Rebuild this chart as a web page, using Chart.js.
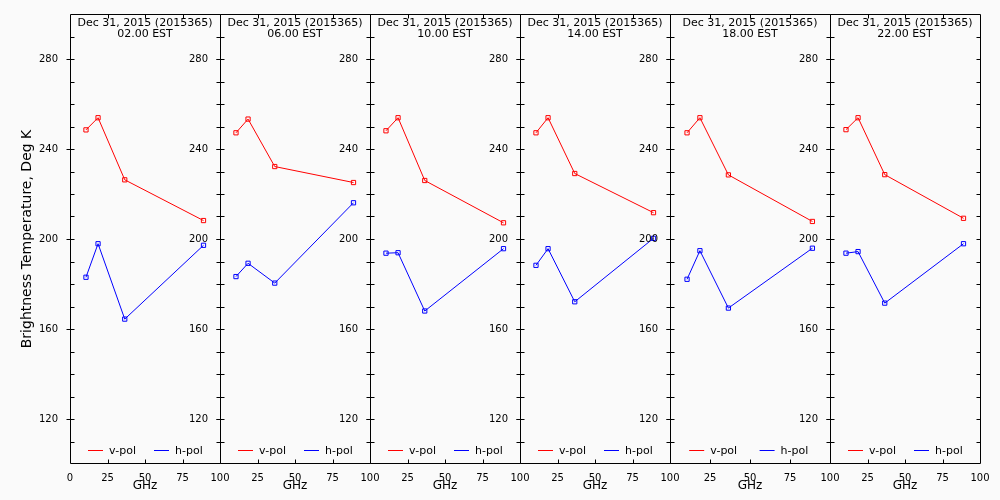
<!DOCTYPE html>
<html lang="en">
<head>
<meta charset="UTF-8">
<title>Brightness Temperature, Dec 31 2015</title>
<style>
  body { margin: 0; background: #fafafa; }
  #wrap { position: relative; width: 1000px; height: 500px; overflow: hidden; }
  #wrap canvas { position: absolute; top: 0; }
</style>
</head>
<body>
<div id="wrap"></div>
<script src="https://cdn.jsdelivr.net/npm/chart.js"></script>
<script>
const dateLabel = 'Dec 31, 2015 (2015365)';
const times = ['02.00 EST', '06.00 EST', '10.00 EST', '14.00 EST', '18.00 EST', '22.00 EST'];
const freqs = [10.65, 18.7, 36.5, 89.0];

// one row per panel (time), one value per frequency
const vPol = [
  [248.5, 253.9, 226.3, 208.2],
  [247.2, 253.3, 232.2, 225.1],
  [248.1, 253.9, 226.0, 207.2],
  [247.2, 253.9, 229.1, 211.7],
  [247.2, 253.9, 228.5, 207.8],
  [248.6, 253.9, 228.6, 209.2]
];
const hPol = [
  [183.0, 197.9, 164.4, 197.2],
  [183.3, 189.2, 180.4, 216.1],
  [193.7, 193.9, 168.0, 195.7],
  [188.3, 195.7, 172.1, 200.3],
  [182.1, 194.8, 169.3, 195.9],
  [193.7, 194.4, 171.5, 197.9]
];
const xTicks = [0, 25, 50, 75, 100];
const yTicks = [120, 160, 200, 240, 280];
const yMinorStep = 10;

// panel geometry
const panelLeft = [70, 220, 370, 520, 670, 830];
const panelWidth = [150, 150, 150, 150, 160, 150];
const axisW = 70, padR = 12;

Chart.defaults.font.family = 'DejaVu Sans';
Chart.defaults.color = '#000';

const frame = {
  id: 'frame',
  afterDatasetsDraw(chart) {
    const { ctx, chartArea: { left, right, top, bottom }, scales: { x, y } } = chart;
    const L = Math.round(left) + 0.5, R = Math.round(right) + 0.5;
    const T = Math.round(top) + 0.5, B = Math.round(bottom) - 0.5;
    ctx.save();
    ctx.strokeStyle = '#000';
    ctx.lineWidth = 1;
    ctx.beginPath();
    ctx.rect(L, T, R - L, B - T);
    for (let v = y.min + yMinorStep; v < y.max; v += yMinorStep) {
      const py = Math.round(y.getPixelForValue(v)) + 0.5;
      const major = yTicks.includes(v);
      ctx.moveTo(major ? L - 4 : L, py); ctx.lineTo(L + 4, py);
      ctx.moveTo(R - 4, py); ctx.lineTo(R, py);
    }
    xTicks.slice(1, -1).forEach(v => {
      const px = Math.round(x.getPixelForValue(v)) + 0.5;
      ctx.moveTo(px, T); ctx.lineTo(px, T + 4);
      ctx.moveTo(px, B); ctx.lineTo(px, B - 4);
    });
    ctx.stroke();

    // title inside the box
    const cx = (left + right) / 2;
    ctx.fillStyle = '#000';
    ctx.textAlign = 'center';
    ctx.textBaseline = 'alphabetic';
    ctx.font = '11px "DejaVu Sans"';
    const t = chart.options.plugins.frame.title;
    ctx.fillText(t[0], cx, top + 12);
    ctx.fillText(t[1], cx, top + 22.5);

    // legend inside the bottom of the box
    const w = right - left;
    ctx.textAlign = 'left';
    chart.data.datasets.forEach((ds, k) => {
      const lx = left + w * (0.12 + 0.44 * k);
      ctx.strokeStyle = ds.borderColor;
      ctx.beginPath();
      ctx.moveTo(lx, Math.round(bottom - 14) + 0.5);
      ctx.lineTo(lx + 15, Math.round(bottom - 14) + 0.5);
      ctx.stroke();
      ctx.fillText(ds.label, lx + 21, bottom - 10);
    });
    ctx.restore();
  }
};

const wrap = document.getElementById('wrap');

times.forEach((time, i) => {
  const canvas = document.createElement('canvas');
  const cw = axisW + panelWidth[i] + padR;
  canvas.width = cw;
  canvas.height = 500;
  canvas.style.left = (panelLeft[i] - axisW) + 'px';
  canvas.style.width = cw + 'px';
  canvas.style.height = '500px';
  wrap.appendChild(canvas);

  const series = (vals) => freqs.map((f, j) => ({ x: f, y: vals[j] }));
  const dsStyle = {
    borderWidth: 1,
    pointStyle: 'rect',
    pointRadius: 3,
    pointBorderWidth: 1,
    pointBackgroundColor: 'rgba(0,0,0,0)',
    tension: 0
  };

  new Chart(canvas, {
    type: 'line',
    data: {
      datasets: [
        Object.assign({ label: 'v-pol', data: series(vPol[i]), borderColor: '#ff0000', pointBorderColor: '#ff0000' }, dsStyle),
        Object.assign({ label: 'h-pol', data: series(hPol[i]), borderColor: '#0000ff', pointBorderColor: '#0000ff' }, dsStyle)
      ]
    },
    options: {
      responsive: false,
      animation: false,
      events: [],
      layout: { padding: { top: 14, right: padR, left: 0, bottom: 0 } },
      plugins: {
        legend: { display: false },
        tooltip: { enabled: false },
        frame: { title: [dateLabel, time] }
      },
      scales: {
        x: {
          type: 'linear',
          min: 0,
          max: 100,
          afterBuildTicks: s => { s.ticks = xTicks.map(v => ({ value: v })); },
          ticks: {
            autoSkip: false,
            maxRotation: 0,
            padding: 0,
            font: { size: 10 },
            callback: v => (i > 0 && v === 0) ? '' : v
          },
          grid: { display: false },
          border: { display: false },
          title: { display: true, text: 'GHz', font: { size: 12 }, padding: { top: 0, bottom: 7 } },
          afterFit: s => { s.height = 36; }
        },
        y: {
          min: 100,
          max: 300,
          afterBuildTicks: s => { s.ticks = yTicks.map(v => ({ value: v })); },
          ticks: { padding: 4, font: { size: 10 } },
          grid: { display: false },
          border: { display: false },
          title: {
            display: i === 0,
            text: 'Brightness Temperature, Deg K',
            font: { size: 14 },
            padding: { top: 19, bottom: 0 }
          },
          afterFit: s => { s.width = axisW; }
        }
      }
    },
    plugins: [frame]
  });
});
</script>
</body>
</html>
